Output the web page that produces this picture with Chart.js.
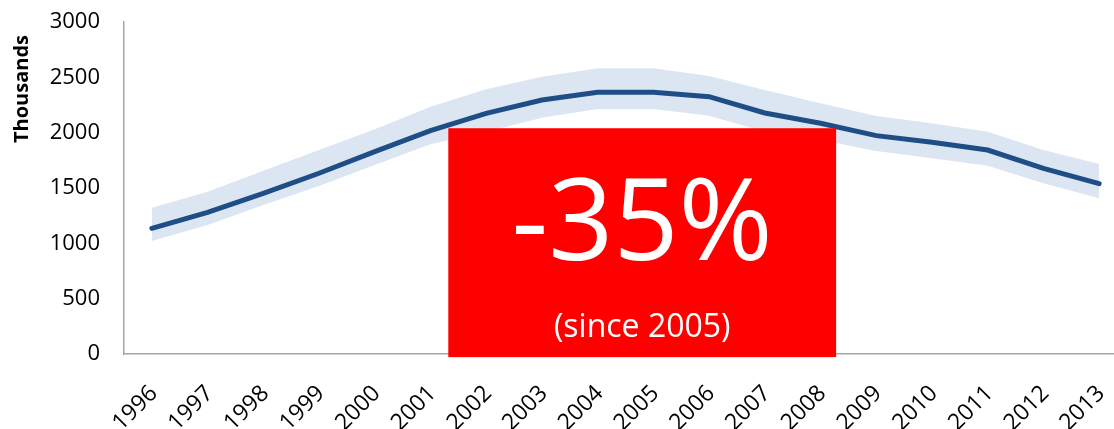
<!DOCTYPE html>
<html>
<head>
<meta charset="utf-8">
<script src="https://cdn.jsdelivr.net/npm/chart.js@4.4.1/dist/chart.umd.min.js"></script>
<style>
  html, body { margin: 0; padding: 0; overflow: hidden; background: #fff; }
  #wrap { width: 1127px; height: 429px; }
</style>
</head>
<body>
<div id="wrap"><canvas id="c" width="1127" height="429"></canvas></div>
<script>
const years = ['1996','1997','1998','1999','2000','2001','2002','2003','2004','2005','2006','2007','2008','2009','2010','2011','2012','2013'];
const central = [1136,1280,1452,1633,1828,2018,2175,2295,2365,2365,2325,2178,2085,1973,1913,1843,1678,1539];
const upperBand = [1322,1467,1656,1843,2030,2235,2392,2506,2582,2582,2512,2386,2265,2151,2085,2009,1843,1717];
const lowerBand = [1021,1166,1346,1518,1708,1895,2009,2135,2214,2214,2153,2009,1934,1834,1768,1702,1542,1407];
const yTicks = [0,500,1000,1500,2000,2500,3000];
const yTitle = 'Thousands';
const calloutMain = '-35%';
const calloutSub = '(since 2005)';

const FONT = "'Open Sans', sans-serif";

const overlay = {
  id: 'overlay',
  afterDraw(chart) {
    const ctx = chart.ctx;
    const x = chart.scales.x, y = chart.scales.y;
    // y-axis title
    ctx.save();
    ctx.translate(22, 89);
    ctx.rotate(-Math.PI / 2);
    ctx.font = "bold 20px " + FONT;
    ctx.fillStyle = '#000';
    ctx.textAlign = 'center';
    ctx.textBaseline = 'middle';
    ctx.fillText(yTitle, 0, 0);
    ctx.restore();
    // callout box
    const x0 = x.getPixelForValue(5.32), x1 = x.getPixelForValue(12.28);
    const y0 = y.getPixelForValue(2040), y1 = y.getPixelForValue(-28);
    ctx.save();
    ctx.fillStyle = '#ff0000';
    ctx.fillRect(x0, y0, x1 - x0, y1 - y0);
    ctx.fillStyle = '#ffffff';
    ctx.textAlign = 'center';
    ctx.textBaseline = 'alphabetic';
    const cx = (x0 + x1) / 2;
    ctx.font = "114px " + FONT;
    ctx.fillText(calloutMain, cx, y0 + 132);
    ctx.font = "32px " + FONT;
    ctx.fillText(calloutSub, cx, y0 + 209);
    ctx.restore();
  }
};

new Chart(document.getElementById('c'), {
  type: 'line',
  data: {
    labels: years,
    datasets: [
      { label: 'Central', data: central, borderColor: '#1f4e87', borderWidth: 5, pointRadius: 0, tension: 0, fill: false, borderCapStyle: 'round', order: 0 },
      { label: 'Lower', data: lowerBand, borderColor: 'rgba(0,0,0,0)', borderWidth: 0, pointRadius: 0, fill: false, order: 2 },
      { label: 'Upper', data: upperBand, borderColor: 'rgba(0,0,0,0)', borderWidth: 0, pointRadius: 0, fill: '-1', backgroundColor: '#dce6f2', order: 1 }
    ]
  },
  options: {
    responsive: false,
    animation: false,
    events: [],
    layout: { padding: { top: 22, right: 0, left: 0, bottom: 0 } },
    plugins: { legend: { display: false }, tooltip: { enabled: false }, filler: { propagate: false } },
    scales: {
      x: {
        type: 'category',
        offset: true,
        grid: { display: false, drawTicks: false },
        border: { display: true, color: '#a6a6a6', width: 1.5 },
        ticks: { color: '#000', font: { family: FONT, size: 23 }, maxRotation: 45, minRotation: 45, padding: 26, labelOffset: 2, autoSkip: false },
        afterFit(s) { s.height = 75; s.paddingLeft = 0; s.paddingRight = 0; }
      },
      y: {
        min: 0, max: 3000,
        grid: { display: false, drawTicks: false },
        border: { display: true, color: '#a6a6a6', width: 1.5 },
        ticks: { color: '#000', font: { family: FONT, size: 22 }, padding: 24, callback: v => String(v) },
        afterBuildTicks(s) { s.ticks = yTicks.map(v => ({ value: v })); },
        afterFit(s) { s.width = 124; s.paddingTop = 0; s.paddingBottom = 0; }
      }
    }
  },
  plugins: [overlay]
});
</script>
</body>
</html>
